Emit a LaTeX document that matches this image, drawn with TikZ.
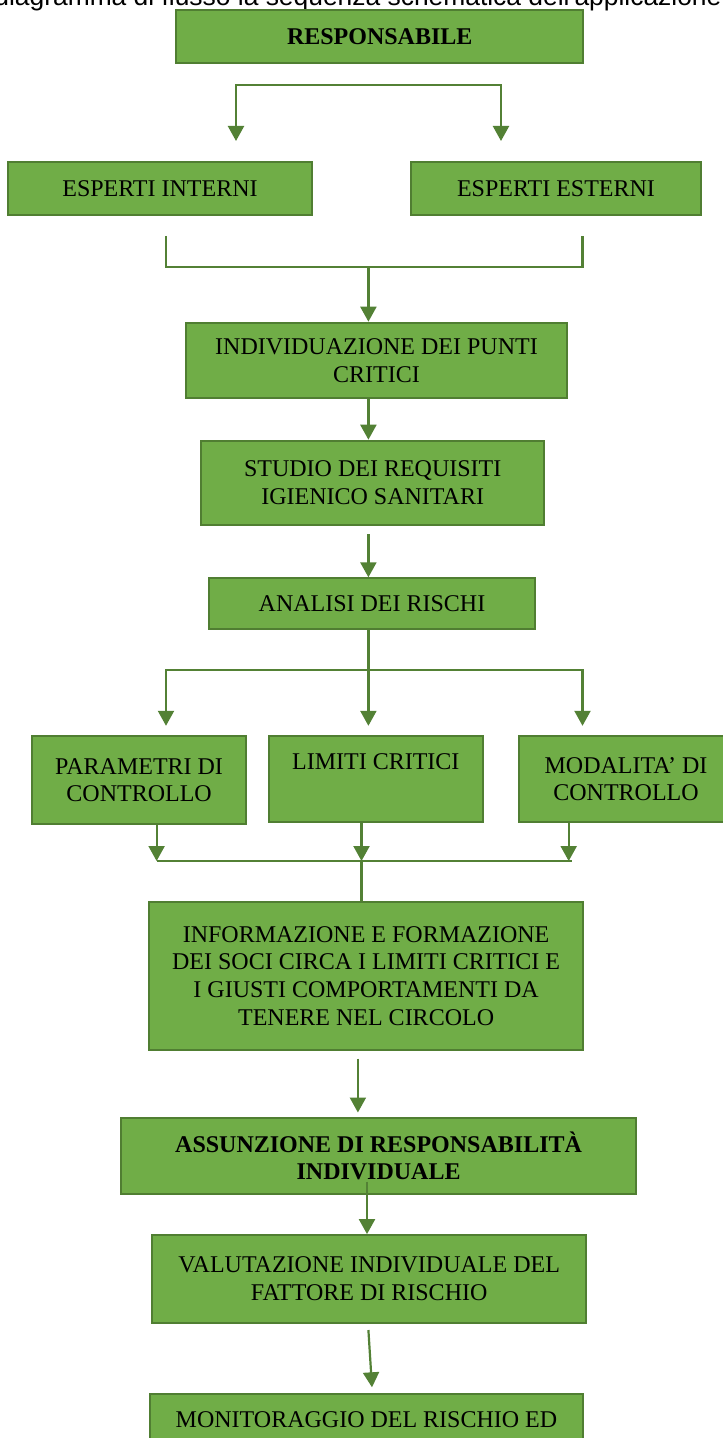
\documentclass[tikz,border=0pt]{standalone}
\usepackage{fontspec}
\setmainfont{Liberation Serif}
\newfontfamily\titlefont{Liberation Sans}
\usepackage{xcolor}
\usetikzlibrary{positioning,arrows.meta}
\definecolor{boxfill}{HTML}{70AD47}
\definecolor{boxline}{HTML}{507E32}
\definecolor{flowgreen}{HTML}{538135}

\begin{document}
\begin{tikzpicture}[x=0.5pt, y=-0.5pt, >={Triangle[length=7.5pt,width=8pt]}]
\tikzstyle{box}=[draw=boxline, line width=1pt, fill=boxfill, align=center, inner sep=0pt, font=\fontsize{12}{13.8}\selectfont]
\tikzstyle{boldbox}=[box, font=\bfseries\fontsize{12}{13.8}\selectfont]
\tikzstyle{link}=[draw=flowgreen, line width=1.1pt]
\useasboundingbox (0,0) rectangle (722,1438);

\node[anchor=base west, inner sep=0pt, font=\titlefont\fontsize{13.2}{15}\selectfont] (title) at (-6,6) {diagramma di flusso la sequenza schematica dell'applicazione};

\node[boldbox, minimum width=203.5pt, minimum height=26.5pt] (resp) at (379.7,36.5) {RESPONSABILE};
\node[box, minimum width=152pt, minimum height=26.5pt] (intern) at (160,188.5) {ESPERTI INTERNI};
\node[box, minimum width=145pt, minimum height=26.5pt, right=48.5pt of intern] (extern) {ESPERTI ESTERNI};
\node[box, minimum width=190.8pt, minimum height=37.8pt] (punti) at (376.5,360.5) {INDIVIDUAZIONE DEI PUNTI\\CRITICI};
\node[box, minimum width=171.6pt, minimum height=42pt] (studio) at (372.7,482.7) {STUDIO DEI REQUISITI\\IGIENICO SANITARI};
\node[box, minimum width=163pt, minimum height=25.5pt] (analisi) at (372,603.8) {ANALISI DEI RISCHI};
\node[box, minimum width=107.3pt, minimum height=44.1pt] (param) at (139.1,780.1) {PARAMETRI DI\\CONTROLLO};
\node[box, minimum width=107.2pt, minimum height=43pt] (limiti) at (375.8,779) {LIMITI CRITICI\\ \strut};
\node[box, minimum width=107pt, minimum height=43pt, right=17pt of limiti] (modal) {MODALITA’ DI\\CONTROLLO};
\node[box, minimum width=217pt, minimum height=74pt] (info) at (366.1,975.9) {INFORMAZIONE E FORMAZIONE\\DEI SOCI CIRCA I LIMITI CRITICI E\\I GIUSTI COMPORTAMENTI DA\\TENERE NEL CIRCOLO};
\node[boldbox, minimum width=257.8pt, minimum height=38pt] (assunz) at (378.6,1155.9) {ASSUNZIONE DI RESPONSABILITÀ\\INDIVIDUALE};
\node[box, minimum width=217.2pt, minimum height=43.8pt] (valut) at (369.2,1278.9) {VALUTAZIONE INDIVIDUALE DEL\\FATTORE DI RISCHIO};
\node[box, minimum width=216.8pt, anchor=north, text height=16.5pt, text depth=40pt] (monit) at (366.5,1393.3) {MONITORAGGIO DEL RISCHIO ED};

\coordinate (forkL) at (236,85);
\coordinate (forkR) at (501,85);
\draw[link, <->, shorten <=10pt, shorten >=10pt] (forkL |- intern.north) |- (forkR) -- (forkR |- extern.north);

\coordinate (brL) at (166,236);
\coordinate (brR) at (582.5,236);
\coordinate (brM) at (368.4,267.3);
\draw[link] (brL) |- (brM -| brR) -- (brR);
\draw[link, ->] (brM) -- (brM |- punti.north);
\draw[link, ->] (brM |- punti.south) -- (brM |- studio.north);
\draw[link, ->, shorten <=4.3pt] (brM |- studio.south) -- (brM |- analisi.north);

\coordinate (splitL) at (166,670);
\coordinate (splitM) at (368.4,670);
\coordinate (splitR) at (582.5,670);
\draw[link, ->, shorten >=4.6pt] (splitM |- analisi.south) -- (splitM |- limiti.north);
\draw[link, <->, shorten <=4.6pt, shorten >=4.6pt] (splitL |- param.north) |- (splitR) -- (splitR |- modal.north);

\coordinate (joinL) at (156.6,861);
\coordinate (joinM) at (361.5,861);
\coordinate (joinR) at (568.7,861);
\draw[link, ->] (joinL |- param.south) -- (joinL);
\draw[link, ->] (joinM |- limiti.south) -- (joinM);
\draw[link, ->] (joinR |- modal.south) -- (joinR);
\draw[link] (joinL) -- ([xshift=1.6pt]joinR);
\draw[link] (joinM) -- (joinM |- info.north);

\coordinate (stepA) at (357.9,1050);
\coordinate (stepB) at (367,1181.7);
\coordinate (stepC) at (368.4,1330);
\coordinate (stepD) at (372,1387.3);
\draw[link, ->, shorten <=3.9pt, shorten >=2.2pt] (stepA |- info.south) -- (stepA |- assunz.north);
\draw[link, ->] (stepB) -- (stepB |- valut.north);
\draw[link, ->] (stepC) -- (stepD);
\end{tikzpicture}
\end{document}
